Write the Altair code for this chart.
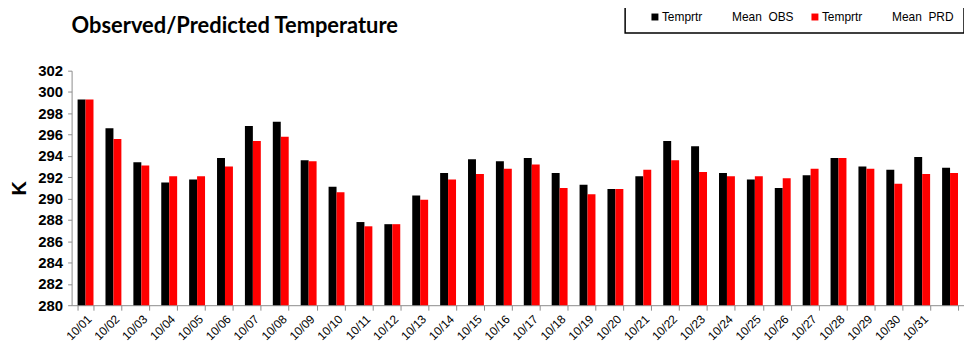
import altair as alt
import pandas as pd

dates = [f"10/{d:02d}" for d in range(1, 32)] + ["11/01"]
obs = [299.3, 296.6, 293.4, 291.5, 291.8, 293.8, 296.8, 297.2, 293.6, 291.1,
       287.8, 287.6, 290.3, 292.4, 293.7, 293.5, 293.8, 292.4, 291.3, 290.9,
       292.1, 295.4, 294.9, 292.4, 291.8, 291.0, 292.2, 293.8, 293.0, 292.7,
       293.9, 292.9]
prd = [299.3, 295.6, 293.1, 292.1, 292.1, 293.0, 295.4, 295.8, 293.5, 290.6,
       287.4, 287.6, 289.9, 291.8, 292.3, 292.8, 293.2, 291.0, 290.4, 290.9,
       292.7, 293.6, 292.5, 292.1, 292.1, 291.9, 292.8, 293.8, 292.8, 291.4,
       292.3, 292.4]
NB = "\u00a0"
series = ["Temprtr" + NB * 9 + "Mean" + NB * 2 + "OBS",
          "Temprtr" + NB * 9 + "Mean" + NB * 2 + "PRD"]
colors = ["#000000", "#ff0000"]

rows = []
for i, d in enumerate(dates):
    rows.append({"date": d, "series": series[0], "value": obs[i], "order": 0})
    rows.append({"date": d, "series": series[1], "value": prd[i], "order": 1})
df = pd.DataFrame(rows)

chart = alt.Chart(df).mark_bar(stroke=None).encode(
    x=alt.X("date:N", sort=dates,
            scale=alt.Scale(paddingInner=0.43, paddingOuter=0.215),
            axis=alt.Axis(title=None, labelAngle=-45, labelFont="Liberation Sans",
                          labelFontSize=12, labelColor="black", labelPadding=3,
                          domainColor="#8c8c8c", tickColor="#8c8c8c", tickSize=5,
                          tickBand="extent",
                          labelExpr="datum.value == '11/01' ? '' : datum.value")),
    xOffset=alt.XOffset("series:N", sort=series, scale=alt.Scale(paddingInner=0)),
    y=alt.Y("value:Q", scale=alt.Scale(domain=[280, 302], zero=False, nice=False),
            axis=alt.Axis(title="K", values=list(range(280, 303, 2)), grid=False,
                          labelFont="Liberation Sans", labelFontSize=15,
                          labelFontWeight="bold", labelColor="black",
                          domainColor="#8c8c8c", tickColor="#8c8c8c", tickSize=4,
                          labelPadding=5,
                          titleFont="Liberation Sans", titleFontSize=20,
                          titleFontWeight="bold", titleColor="black",
                          titlePadding=8)),
    y2=alt.datum(280),
    color=alt.Color("series:N", sort=series,
                    scale=alt.Scale(domain=series, range=colors),
                    legend=alt.Legend(orient="none", legendX=557, legendY=-70,
                                      direction="horizontal", title=None,
                                      symbolType="square", symbolSize=49,
                                      symbolStrokeWidth=0, symbolOffset=14,
                                      labelFont="Liberation Sans", labelFontSize=12,
                                      labelColor="black", labelOffset=1,
                                      columnPadding=1, padding=10,
                                      strokeColor="black", fillColor="white")),
    order=alt.Order("order:Q"),
).properties(
    width=898, height=236,
    title=alt.TitleParams("Observed/Predicted Temperature", anchor="start",
                          font="Lato", fontSize=22, fontWeight="bold",
                          color="black", offset=-55, dx=62,
                          baseline="alphabetic"),
    autosize=alt.AutoSizeParams(type="none"),
    padding={"left": 64, "top": 62, "right": 0, "bottom": 40},
).configure_view(stroke=None).configure_legend(strokeWidth=1.5)

chart.save("out.html", embed_options={"renderer": "svg", "actions": False})
